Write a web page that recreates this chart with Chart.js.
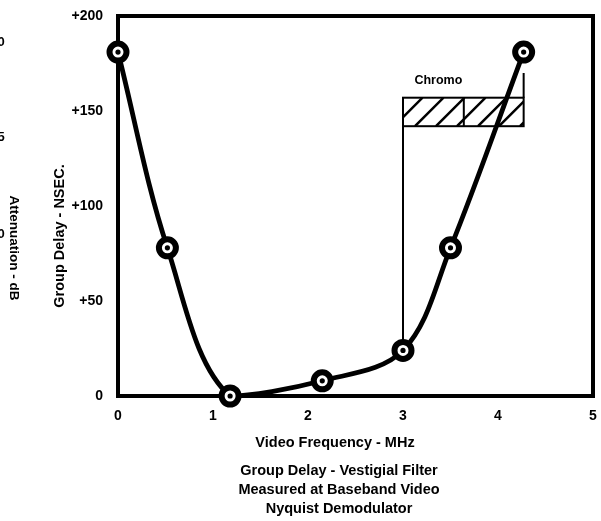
<!DOCTYPE html>
<html>
<head>
<meta charset="utf-8">
<script src="https://cdn.jsdelivr.net/npm/chart.js@4"></script>
<style>
  body { margin: 0; background: #fff; }
  #grafico { display: block; }
</style>
</head>
<body>
<canvas id="grafico" width="601" height="521"></canvas>
<script>
// dados
const frequencias = [0, 0.52, 1.18, 2.15, 3.0, 3.5, 4.27];
const atrasos = [181, 78, 0, 8, 24, 78, 181];
const ticksX = [0, 1, 2, 3, 4, 5];
const ticksY = [0, 50, 100, 150, 200];
const chromoFaixa = [3.0, 3.64, 4.27]; // inicio, divisao, fim (MHz)
const chromoNivel = [142, 157]; // base, topo (nsec)
const chromoGuias = [29, 170]; // fim da guia esquerda, topo da guia direita
const legenda = [
  "Group Delay - Vestigial Filter",
  "Measured at Baseband Video",
  "Nyquist Demodulator",
];

const fonte = "Liberation Sans";
const pontos = frequencias.map((f, i) => ({ x: f, y: atrasos[i] }));

const moldura = {
  id: "moldura",
  beforeDatasetsDraw(chart) {
    const { ctx, chartArea: a } = chart;
    ctx.save();
    ctx.strokeStyle = "#000";
    ctx.lineWidth = 4;
    ctx.strokeRect(a.left, a.top, a.right - a.left, a.bottom - a.top);
    ctx.restore();
  },
};

const chromo = {
  id: "chromo",
  beforeDatasetsDraw(chart) {
    const { ctx } = chart;
    const x = chart.scales.x;
    const y = chart.scales.y;
    const x0 = x.getPixelForValue(chromoFaixa[0]);
    const xm = x.getPixelForValue(chromoFaixa[1]);
    const x1 = x.getPixelForValue(chromoFaixa[2]);
    const yb = y.getPixelForValue(chromoNivel[0]);
    const yt = y.getPixelForValue(chromoNivel[1]);
    const h = yb - yt;
    ctx.save();
    ctx.strokeStyle = "#000";

    // hachura
    ctx.save();
    ctx.beginPath();
    ctx.rect(x0, yt, x1 - x0, h);
    ctx.clip();
    ctx.lineWidth = 2.5;
    ctx.beginPath();
    for (let s = x0 - 30; s < x1 + 30; s += 21) {
      ctx.moveTo(s, yb);
      ctx.lineTo(s + h, yt);
    }
    ctx.stroke();
    ctx.restore();

    ctx.lineWidth = 2;
    ctx.strokeRect(x0, yt, x1 - x0, h);
    ctx.beginPath();
    ctx.moveTo(xm, yt);
    ctx.lineTo(xm, yb);
    ctx.moveTo(x0, yb);
    ctx.lineTo(x0, y.getPixelForValue(chromoGuias[0]));
    ctx.moveTo(x1, yt);
    ctx.lineTo(x1, y.getPixelForValue(chromoGuias[1]));
    ctx.stroke();

    ctx.fillStyle = "#000";
    ctx.font = "bold 12.5px '" + fonte + "'";
    ctx.textAlign = "center";
    ctx.textBaseline = "middle";
    ctx.fillText("Chromo", (x0 + xm) / 2 + 5, yt - 17);
    ctx.restore();
  },
};

const textos = {
  id: "textos",
  afterDraw(chart) {
    const { ctx } = chart;
    ctx.save();
    ctx.fillStyle = "#000";
    ctx.textAlign = "center";
    ctx.textBaseline = "middle";
    ctx.font = "bold 14.5px '" + fonte + "'";

    // titulo do eixo y
    ctx.save();
    ctx.translate(60, 236);
    ctx.rotate(-Math.PI / 2);
    ctx.fillText("Group Delay - NSEC.", 0, 0);
    ctx.restore();

    // eixo cortado da figura vizinha
    ctx.save();
    ctx.translate(14, 248);
    ctx.rotate(Math.PI / 2);
    ctx.font = "bold 13.5px '" + fonte + "'";
    ctx.fillText("Attenuation - dB", 0, 0);
    ctx.restore();
    ctx.font = "bold 13px '" + fonte + "'";
    ctx.fillText("0", 1, 42);
    ctx.fillText("5", 1, 137);
    ctx.fillText("0", 1, 234);

    ctx.font = "bold 14.5px '" + fonte + "'";
    ctx.fillText("Video Frequency - MHz", 335, 443);
    legenda.forEach((linha, i) => {
      ctx.fillText(linha, 339, 471 + i * 19);
    });
    ctx.restore();
  },
};

const chart = new Chart(document.getElementById("grafico"), {
  type: "line",
  data: {
    datasets: [
      {
        data: pontos,
        showLine: false,
        pointRadius: 2.6,
        pointBorderWidth: 0,
        pointBackgroundColor: "#000",
        clip: false,
      },
      {
        data: pontos,
        borderColor: "#000",
        borderWidth: 4.8,
        tension: 0.35,
        pointRadius: 8.5,
        pointBorderWidth: 6,
        pointBorderColor: "#000",
        pointBackgroundColor: "#fff",
        clip: false,
      },
    ],
  },
  options: {
    responsive: false,
    animation: false,
    layout: {
      autoPadding: false,
      padding: { top: 16, right: 8, left: 0, bottom: 0 },
    },
    scales: {
      x: {
        type: "linear",
        min: 0,
        max: 5,
        afterBuildTicks: (s) => {
          s.ticks = ticksX.map((v) => ({ value: v }));
        },
        afterFit: (s) => {
          s.height = 125;
          s.paddingLeft = 0;
          s.paddingRight = 0;
        },
        grid: { display: false, drawTicks: false },
        border: { display: false },
        ticks: {
          padding: 12,
          color: "#000",
          font: { family: fonte, size: 14, weight: "bold" },
        },
      },
      y: {
        min: 0,
        max: 200,
        afterBuildTicks: (s) => {
          s.ticks = ticksY.map((v) => ({ value: v }));
        },
        afterFit: (s) => {
          s.width = 118;
          s.paddingTop = 0;
          s.paddingBottom = 0;
        },
        grid: { display: false, drawTicks: false },
        border: { display: false },
        ticks: {
          padding: 15,
          color: "#000",
          font: { family: fonte, size: 14, weight: "bold" },
          callback: (v) => (v === 0 ? "0" : "+" + v),
        },
      },
    },
    plugins: {
      legend: { display: false },
      tooltip: { enabled: false },
    },
  },
  plugins: [moldura, chromo, textos],
});
</script>
</body>
</html>
